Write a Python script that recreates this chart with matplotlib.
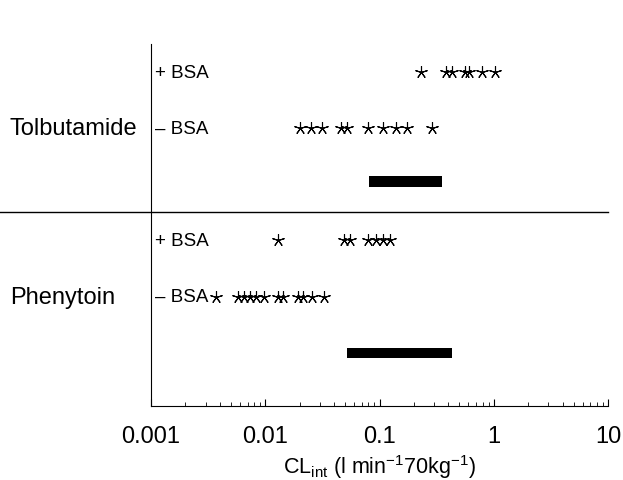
import matplotlib
matplotlib.use('Agg')
import matplotlib.pyplot as plt
from matplotlib.lines import Line2D

plt.rcParams['font.family'] = ['Liberation Sans', 'DejaVu Sans']
plt.rcParams['mathtext.fontset'] = 'custom'
plt.rcParams['mathtext.rm'] = 'Liberation Sans'

# CLint values (l/min/70kg)
tolb_plus = [0.231, 0.382, 0.432, 0.560, 0.607, 0.789, 1.03]
tolb_minus = [0.0201, 0.0251, 0.0314, 0.0460, 0.0520, 0.0793, 0.107, 0.139, 0.174, 0.288]
phen_plus = [0.0129, 0.0489, 0.0552, 0.0793, 0.0931, 0.107, 0.124]
phen_minus = [0.00371, 0.00578, 0.00652, 0.00736, 0.00830, 0.00975,
              0.0129, 0.0143, 0.0194, 0.0214, 0.0257, 0.0327]

# predicted ranges (bars)
tolb_range = (0.081, 0.352)
phen_range = (0.052, 0.431)

row_labels = ['+ BSA', '\u2013 BSA']
drugs = ['Tolbutamide', 'Phenytoin']

fig = plt.figure(figsize=(6.23, 4.81), dpi=100)
ax = fig.add_axes([0.2424, 0.1538, 0.7336, 0.7526])

star = (5, 2, 0)
rows = [(6, tolb_plus), (5, tolb_minus), (3, phen_plus), (2, phen_minus)]
for y, vals in rows:
    ax.plot(vals, [y] * len(vals), linestyle='none', marker=star,
            markersize=9, markeredgewidth=0.8, color='black')

for y, (lo, hi) in [(4.05, tolb_range), (1.0, phen_range)]:
    ax.barh(y, hi - lo, left=lo, height=0.18, color='black')

ax.set_xscale('log')
ax.set_xlim(0.001, 10)
ax.set_ylim(0.05, 6.5)
ax.set_yticks([])

for side in ['top', 'right']:
    ax.spines[side].set_visible(False)

ax.tick_params(axis='x', which='major', direction='in', length=5, pad=14, labelsize=17)
ax.tick_params(axis='x', which='minor', direction='in', length=3)
ax.set_xticks([0.001, 0.01, 0.1, 1, 10])
ax.set_xticklabels(['0.001', '0.01', '0.1', '1', '10'])
ax.set_xlabel(r'CL$_{\mathregular{int}}$ (l min$^{\mathregular{-1}}$70kg$^{\mathregular{-1}}$)',
              fontsize=15.5, labelpad=3)

# row labels next to the y axis
for y, lab in [(6, row_labels[0]), (5, row_labels[1]), (3, row_labels[0]), (2, row_labels[1])]:
    ax.text(0.009, y, lab, transform=ax.get_yaxis_transform(), ha='left', va='center', fontsize=13.5)

# drug names on the left
for y, name in [(5, drugs[0]), (2, drugs[1])]:
    fig.text(10 / 623, ax.transData.transform((1, y))[1] / 481, name, ha='left', va='center', fontsize=17)

# separator between drugs
sep = Line2D([-151 / 457, 1], [3.5, 3.5], transform=ax.get_yaxis_transform(),
             color='black', linewidth=1, clip_on=False)
ax.add_line(sep)

fig.savefig('out.png', dpi=100)
